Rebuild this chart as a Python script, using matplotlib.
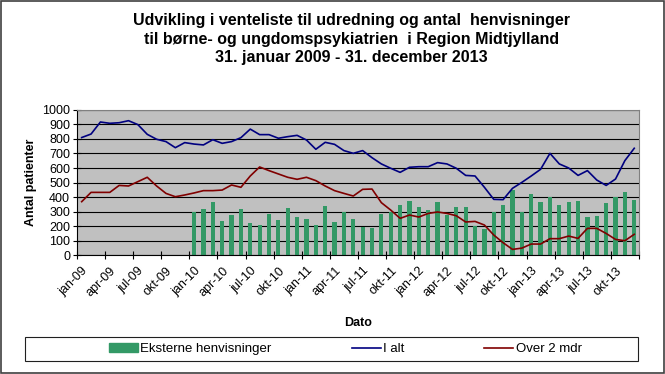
import numpy as np
import matplotlib
matplotlib.use("Agg")
import matplotlib.pyplot as plt
from matplotlib.patches import Rectangle, Patch
from matplotlib.lines import Line2D

plt.rcParams['font.family'] = ['Liberation Sans', 'DejaVu Sans']

# maaneder jan-09 .. dec-13
mdr = ['jan', 'feb', 'mar', 'apr', 'maj', 'jun', 'jul', 'aug', 'sep', 'okt', 'nov', 'dec']
months = [m + '-' + y for y in ['09', '10', '11', '12', '13'] for m in mdr]

i_alt = [810, 834, 917, 908, 912, 926, 899, 832, 798, 782, 740, 775,
         765, 759, 795, 770, 782, 809, 868, 830, 830, 805, 816, 825,
         793, 729, 777, 763, 720, 701, 720, 671, 628, 598, 570, 605,
         609, 609, 637, 628, 598, 549, 545, 467, 384, 382, 460, 501,
         545, 591, 701, 628, 600, 549, 582, 517, 480, 524, 651, 736]

over_2 = [368, 432, 432, 432, 480, 476, 506, 536, 476, 425, 402, 414,
          428, 444, 444, 448, 483, 467, 545, 607, 582, 559, 536, 522,
          536, 513, 476, 444, 425, 407, 453, 455, 361, 310, 253, 276,
          262, 287, 297, 287, 271, 228, 232, 207, 138, 85, 39, 48,
          76, 76, 113, 113, 131, 115, 184, 184, 149, 108, 99, 143]

# eksterne henvisninger, kun fra jan-10
henv = [np.nan] * 12 + [
    299, 315, 368, 237, 274, 320, 223, 204, 280, 241, 322, 260,
    246, 205, 338, 230, 299, 246, 195, 186, 280, 297, 343, 375,
    331, 310, 364, 278, 331, 329, 200, 178, 299, 344, 450, 297,
    421, 366, 398, 347, 366, 370, 260, 269, 356, 402, 434, 379]

x = np.arange(len(months))

fig = plt.figure(figsize=(6.65, 3.74), dpi=100)
ax = fig.add_axes([0.1158, 0.318, 0.845, 0.388])
ax.set_facecolor('#C0C0C0')

green = '#339966'
blue = '#000080'
red = '#800000'

ax.bar(x, henv, width=0.45, color=green, zorder=2)
ax.plot(x, i_alt, color=blue, lw=1.2, zorder=3)
ax.plot(x, over_2, color=red, lw=1.2, zorder=3)

ax.set_ylim(0, 1000)
ax.set_xlim(-0.5, len(months) - 0.5)
ax.set_yticks(range(0, 1001, 100))
ax.yaxis.grid(True, color='black', lw=0.8, zorder=1)
ax.set_axisbelow(True)
ax.tick_params(axis='y', direction='inout', length=6, labelsize=9, pad=2)

ax.set_xticks(np.arange(-0.5, len(months), 3))
ax.set_xticklabels([])
ax.tick_params(axis='x', which='major', direction='inout', length=6)
ax.set_xticks(x[::3], minor=True)
ax.set_xticklabels(months[::3], minor=True, rotation=45, ha='right',
                   rotation_mode='anchor', fontsize=9)
ax.tick_params(axis='x', which='minor', length=0, pad=7)

for s in ['top', 'right']:
    ax.spines[s].set_color('#808080')
    ax.spines[s].set_linewidth(0.8)

ax.set_ylabel('Antal patienter', fontsize=9, fontweight='bold', labelpad=4)
ax.set_xlabel('Dato', fontsize=9, fontweight='bold', labelpad=13)

fig.text(0.529, 0.965, 'Udvikling i venteliste til udredning og antal  henvisninger\n'
         'til børne- og ungdomspsykiatrien  i Region Midtjylland\n'
         '31. januar 2009 - 31. december 2013',
         ha='center', va='top', fontsize=11.5, fontweight='bold', linespacing=1.3)

# legend box
fig.patches.append(Rectangle((25 / 665, 1 - 361 / 374), 613 / 665, 24 / 374,
                             transform=fig.transFigure, fill=False, ec='#202020', lw=0.8))
handles = [Patch(color=green), Line2D([], [], color=blue, lw=1.2),
           Line2D([], [], color=red, lw=1.2)]
fig.legend(handles, ['Eksterne henvisninger', 'I alt', 'Over 2 mdr'],
           loc='center', bbox_to_anchor=(0.5195, 1 - 349 / 374), ncol=3,
           frameon=False, fontsize=9.5, columnspacing=6.05, handlelength=2.2,
           handletextpad=0.2)

# outer border
fig.patches.append(Rectangle((0.002, 0.003), 0.996, 0.994, transform=fig.transFigure,
                             fill=False, ec='#404040', lw=1.2))

fig.savefig('out.png', dpi=100)
